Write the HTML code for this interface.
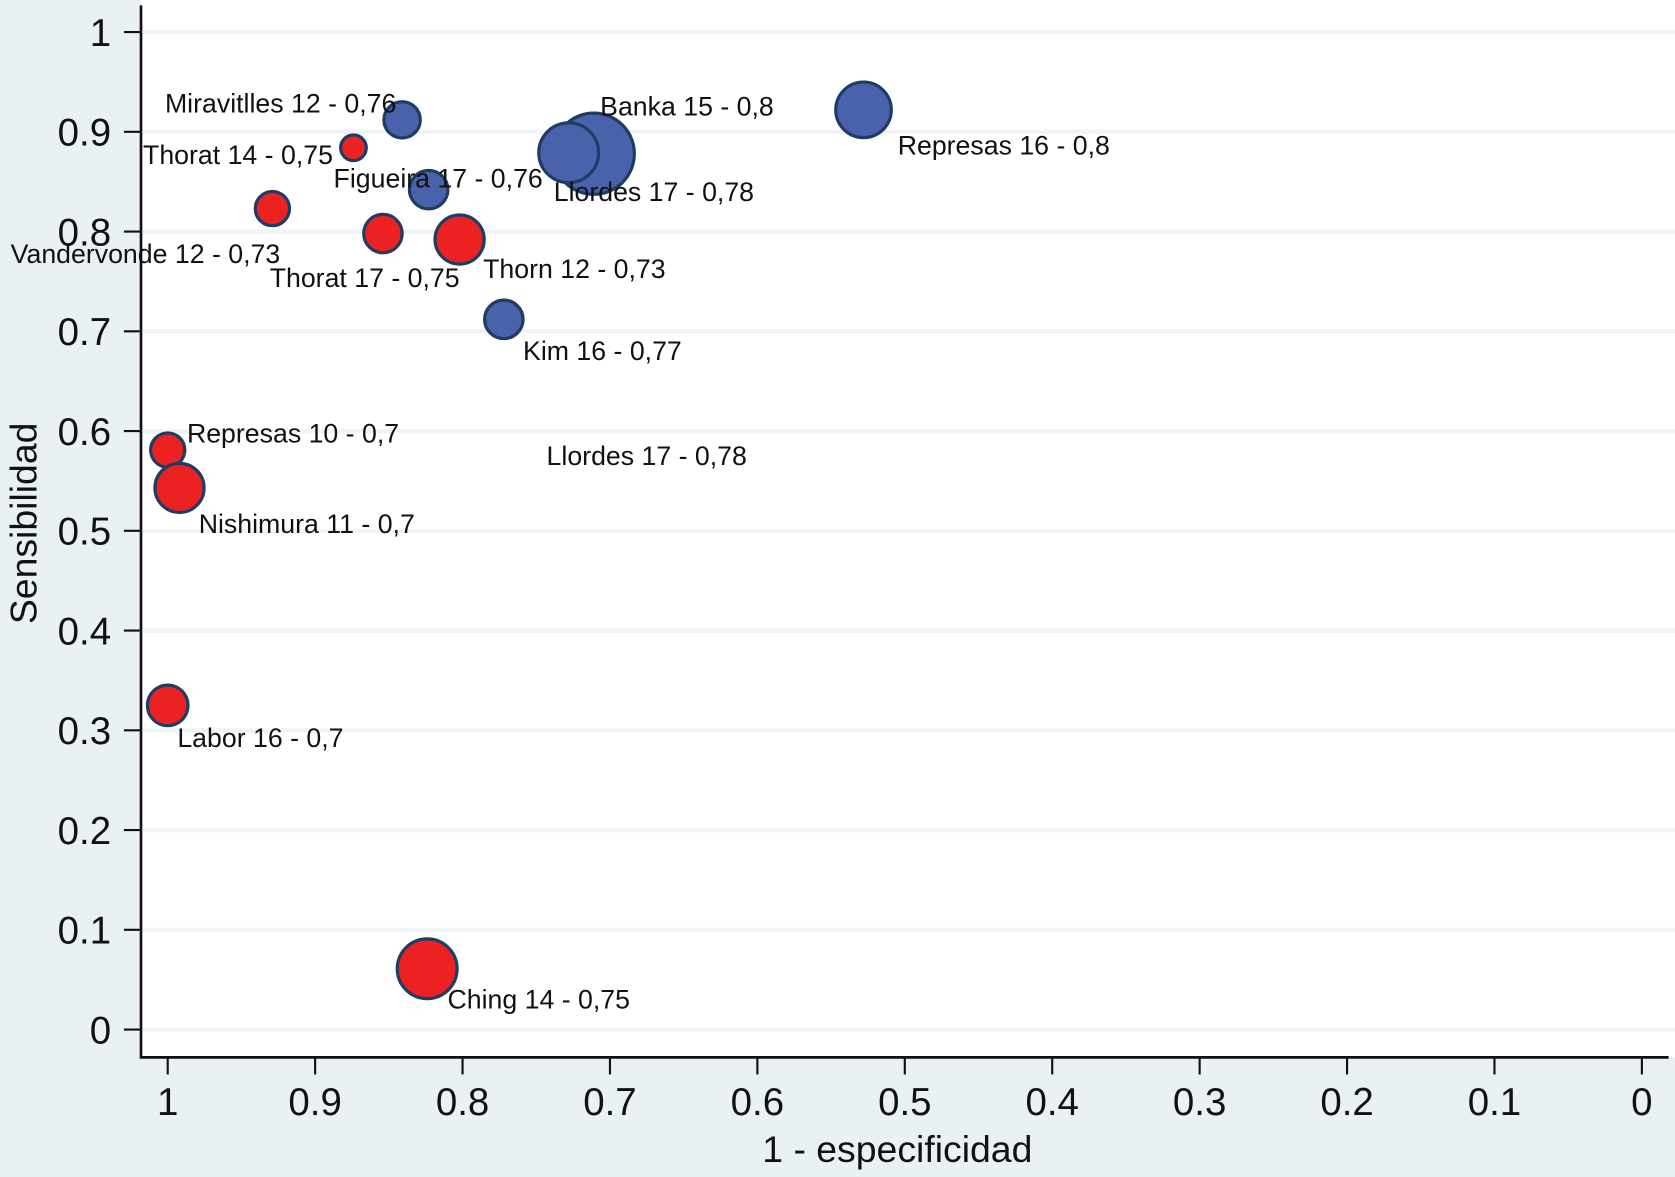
<!DOCTYPE html>
<html><head><meta charset="utf-8"><style>
html,body{margin:0;padding:0;background:#e9f1f4;}
svg{display:block;font-family:"Liberation Sans",sans-serif;}
</style></head><body>
<svg id="chart" width="1675" height="1177" viewBox="0 0 1568 1102" preserveAspectRatio="none" xmlns="http://www.w3.org/2000/svg">
<rect x="0" y="0" width="1568" height="1102" fill="#e9f1f4"/>
<rect x="132" y="0" width="1436" height="990" fill="#ffffff"/>
<g id="grid"></g><g id="axes"></g><g id="marks"></g><g id="labels"></g>
<text x="840" y="1088" font-size="35" text-anchor="middle" fill="#111">1 - especificidad</text>
<text x="0" y="0" font-size="35" text-anchor="middle" fill="#111" transform="translate(34,490) rotate(-90)">Sensibilidad</text>
</svg>
<script>
const names = ["Represas 16 - 0,8","Banka 15 - 0,8","Llordes 17 - 0,78","Miravitlles 12 - 0,76","Figueira 17 - 0,76","Thorat 14 - 0,75","Vandervonde 12 - 0,73","Thorat 17 - 0,75","Thorn 12 - 0,73","Kim 16 - 0,77","Represas 10 - 0,7","Nishimura 11 - 0,7","Labor 16 - 0,7","Ching 14 - 0,75"];
const xVals = [0.528,0.711,0.728,0.841,0.823,0.874,0.929,0.854,0.802,0.772,1.0,0.992,1.0,0.824];
const yVals = [0.922,0.878,0.879,0.912,0.842,0.884,0.823,0.798,0.792,0.712,0.581,0.543,0.325,0.061];
const sizes = [26,38,28,17,18,12,16,18,23,18,16,23,19,28];
const groups = ["b","b","b","b","b","r","r","r","r","b","r","r","r","r"];
const xTicks = [1,0.9,0.8,0.7,0.6,0.5,0.4,0.3,0.2,0.1,0];
const yTicks = [0,0.1,0.2,0.3,0.4,0.5,0.6,0.7,0.8,0.9,1];
// label offsets from marker (layout)
const labelDx = [32,6,-14,-222,-89,-197,-245,-106,22,18,18,18,9,19];
const labelDy = [42,-36,45,-7,-2,15,51,50,36,38,-7,42,39,37];
const extraLabel = {text:"Llordes 17 - 0,78", x:0.743, y:0.566};

const X = v => 157 + (1 - v) * 1380;
const Y = v => 964 - v * 934;
const NS = "http://www.w3.org/2000/svg";
function mk(tag, attrs, parent){const e=document.createElementNS(NS,tag);for(const k in attrs)e.setAttribute(k,attrs[k]);document.getElementById(parent).appendChild(e);return e;}

yTicks.forEach(t=>{
  const g=mk("line",{x1:134,x2:1568,y1:Y(t),y2:Y(t),stroke:"#eef4f7","stroke-width":4},"grid");
  
  
  const tk=mk("line",{x1:116,x2:132,y1:Y(t),y2:Y(t),stroke:"#111","stroke-width":2},"axes");
  
  
  const tl=mk("text",{x:104,y:Y(t)+13,"font-size":36,"text-anchor":"end",fill:"#111"},"axes");
  tl.textContent=String(t);
  
  
});
xTicks.forEach(t=>{
  const tk=mk("line",{x1:X(t),x2:X(t),y1:990,y2:1006,stroke:"#111","stroke-width":2},"axes");
  
  
  const tl=mk("text",{x:X(t),y:1044,"font-size":36,"text-anchor":"middle",fill:"#111"},"axes");
  tl.textContent=String(t);
  
  
});
const ya=mk("line",{x1:132,x2:132,y1:5,y2:991,stroke:"#111","stroke-width":2.5},"axes");


const xa=mk("line",{x1:131,x2:1562,y1:990,y2:990,stroke:"#111","stroke-width":2.5},"axes");



names.forEach((n,i)=>{
  const cx=X(xVals[i]), cy=Y(yVals[i]);
  const c=mk("circle",{cx:cx,cy:cy,r:sizes[i],fill:groups[i]==="b"?"#4a62ab":"#ec2222",stroke:"#1f3d63","stroke-width":3},"marks");
  
  
  const t=mk("text",{x:cx+labelDx[i],y:cy+labelDy[i],"font-size":25,fill:"#111"},"labels");
  t.textContent=n;
  
  
});
const el=mk("text",{x:X(extraLabel.x),y:Y(extraLabel.y),"font-size":25,fill:"#111"},"labels");
el.textContent=extraLabel.text;


</script>
</body></html>
